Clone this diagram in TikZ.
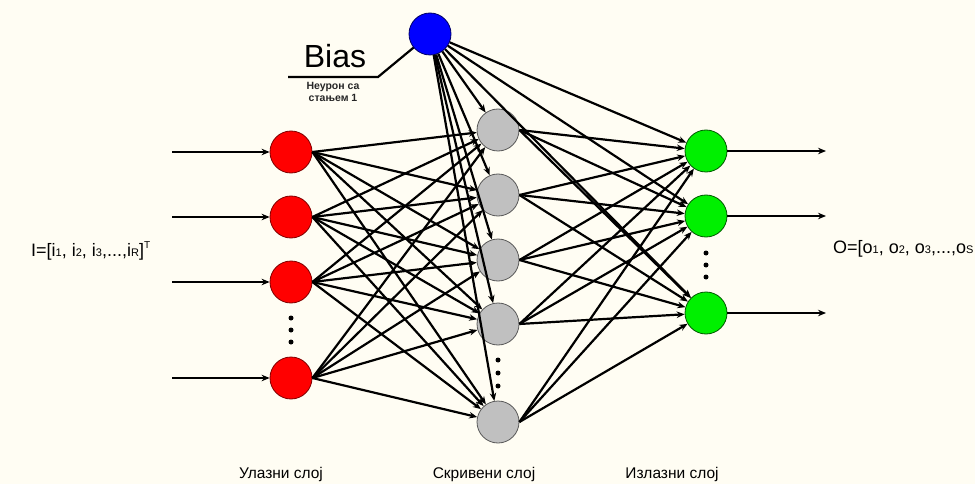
\documentclass[tikz,border=0pt]{standalone}
\usepackage{fontspec}
\setmainfont{Liberation Sans}
\usetikzlibrary{arrows.meta,backgrounds}
\definecolor{paper}{RGB}{255,253,243}
\definecolor{inred}{RGB}{255,0,0}
\definecolor{hidgray}{RGB}{192,192,192}
\definecolor{outgreen}{RGB}{0,240,0}
\definecolor{biasblue}{RGB}{0,0,255}
\tikzset{
  neuron/.style={circle, minimum size=42pt, inner sep=0pt, line width=0.8pt},
  innode/.style={neuron, fill=inred, draw=red!50!black},
  hidnode/.style={neuron, fill=hidgray, draw=black!65},
  outnode/.style={neuron, fill=outgreen, draw=green!35!black},
  biasnode/.style={neuron, fill=biasblue, draw=blue!40!black},
  link/.style={line width=2.2pt, -{Stealth[length=8pt,width=6.5pt]}},
  dotmark/.style={circle, fill=black, inner sep=0pt, minimum size=5pt},
  layername/.style={font=\fontsize{15.5}{18}\selectfont},
}
\begin{document}
\begin{tikzpicture}[x=1pt,y=-1pt]
\begin{pgfonlayer}{background}
  \fill[paper] (0,0) rectangle (975,484);
\end{pgfonlayer}
\useasboundingbox (0,0) rectangle (975,484);

% input layer
\node[innode] (i1) at (291,152) {};
\node[innode] (i2) at (291,217) {};
\node[innode] (i3) at (291,282) {};
\node[innode] (i4) at (291,378) {};
% hidden layer
\node[hidnode] (h1) at (498,130) {};
\node[hidnode] (h2) at (498,195) {};
\node[hidnode] (h3) at (498,260) {};
\node[hidnode] (h4) at (498,324) {};
\node[hidnode] (h5) at (498,422) {};
% output layer
\node[outnode] (o1) at (706,151) {};
\node[outnode] (o2) at (706,216) {};
\node[outnode] (o3) at (706,313) {};
% bias neuron
\node[biasnode] (b) at (430,34) {};

% ellipsis dots
\foreach \y [count=\k] in {318,330,342} \node[dotmark] (di\k) at (291,\y) {};
\foreach \y [count=\k] in {360,373,386} \node[dotmark] (dh\k) at (498,\y) {};
\foreach \y [count=\k] in {253,265,277} \node[dotmark] (do\k) at (706,\y) {};

% weights
\foreach \s in {i1,i2,i3,i4}
  \foreach \t in {h1,h2,h3,h4,h5}
    \draw[link] (\s.east) -- (\t);
\foreach \s in {h1,h2,h3,h4,h5}
  \foreach \t in {o1,o2,o3}
    \draw[link] (\s.east) -- (\t);
\foreach \t in {h1,h2,h3,h4,h5,o1,o2,o3}
  \draw[link] (b) -- (\t);

% external inputs and outputs
\foreach \k/\y in {1/152,2/217,3/282,4/378} {
  \coordinate (xin\k) at (172,\y);
  \draw[link] (xin\k) -- (i\k.west);
}
\foreach \k/\y in {1/151,2/216,3/313} {
  \coordinate (yout\k) at (826,\y);
  \draw[link] (o\k.east) -- (yout\k);
}

% bias label with its leader line (behind the bias neuron)
\coordinate (bl1) at (288,77);
\coordinate (bl2) at (378,77);
\begin{pgfonlayer}{background}
  \draw[line width=2.2pt] (bl1) -- (bl2) -- (b.center);
\end{pgfonlayer}
\node[anchor=base, font=\fontsize{32}{34}\selectfont] (biastext) at (335,68) {Bias};
\node[anchor=base, font=\fontsize{10.5}{12}\selectfont\bfseries, text=black!85] (biasnote) at (333,90) {Неурон са};
\node[anchor=base, font=\fontsize{10.5}{12}\selectfont\bfseries, text=black!85] (biasnote2) at (333,102) {стањем 1};

% vector labels
\newcommand{\sub}[1]{\raisebox{-0.5pt}{\fontsize{11}{12}\selectfont #1}}
\node[anchor=base west, inner sep=0pt, font=\fontsize{18}{20}\selectfont] (invec) at (31,256)
  {I=[i\sub{1}, i\sub{2}, i\sub{3},...,i\sub{R}]\raisebox{8pt}{\fontsize{10}{11}\selectfont T}};
\node[anchor=base west, inner sep=0pt, font=\fontsize{18}{20}\selectfont] (outvec) at (833,253)
  {O=[o\sub{1}, o\sub{2}, o\sub{3},...,o\sub{S}};

% layer names
\node[layername, anchor=base] (l1) at (281,478) {Улазни слој};
\node[layername, anchor=base] (l2) at (484,478) {Скривени слој};
\node[layername, anchor=base] (l3) at (672,478) {Излазни слој};
\end{tikzpicture}
\end{document}
